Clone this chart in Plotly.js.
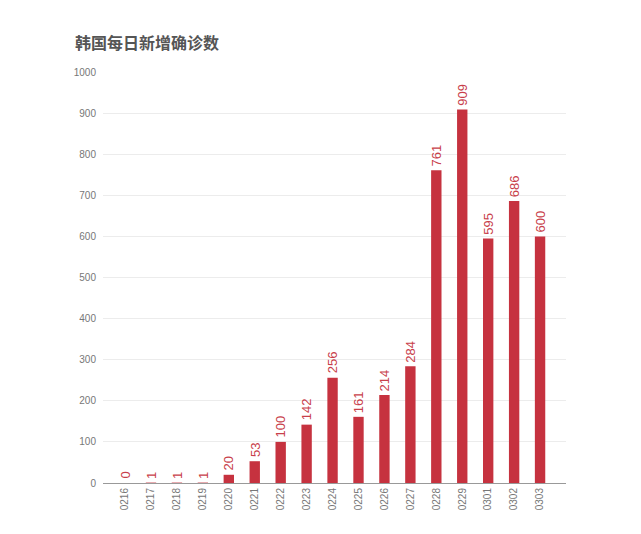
<!DOCTYPE html>
<html>
<head>
<meta charset="utf-8">
<script src="https://cdn.plot.ly/plotly-3.0.1.min.js"></script>
<style>
  html, body { margin: 0; padding: 0; background: #fff; }
  #chart { width: 641px; height: 534px; }
</style>
</head>
<body>
<div id="chart"></div>
<script>
// daily new confirmed cases, South Korea
const dates = ['0216', '0217', '0218', '0219', '0220', '0221', '0222', '0223', '0224',
	'0225', '0226', '0227', '0228', '0229', '0301', '0302', '0303'];
const cases = [0, 1, 1, 1, 20, 53, 100, 142, 256, 161, 214, 284, 761, 909, 595, 686, 600];
const yTicks = [0, 100, 200, 300, 400, 500, 600, 700, 800, 900, 1000];

const red = '#c6323f';

const trace = {
	type: 'bar',
	x: dates,
	y: cases,
	marker: { color: red },
	hoverinfo: 'x+y'
};

// value labels above each bar, rotated like the original
// (x given as category index, '0216' style strings get read as numbers)
const labels = dates.map(function(d, i) {
	return {
		xref: 'x',
		yref: 'y',
		x: i,
		y: cases[i],
		text: String(cases[i]),
		textangle: -90,
		showarrow: false,
		xanchor: 'center',
		yanchor: 'bottom',
		yshift: 2,
		font: { family: 'Liberation Sans, Arial, sans-serif', size: 13, color: '#c8404a' }
	};
});

const layout = {
	width: 641,
	height: 534,
	margin: { l: 103, r: 75, t: 72, b: 51 },
	paper_bgcolor: '#ffffff',
	plot_bgcolor: '#ffffff',
	showlegend: false,
	bargap: 0.6,
	font: { family: 'Liberation Sans, Arial, sans-serif', color: '#666' },
	title: {
		text: '<b>韩国每日新增确诊数</b>',
		font: { family: 'Noto Sans CJK SC, sans-serif', size: 16, color: '#555' },
		xref: 'container',
		yref: 'container',
		x: 75 / 641,
		xanchor: 'left',
		y: 1 - 43 / 534,
		yanchor: 'middle'
	},
	xaxis: {
		type: 'category',
		range: [-0.85, 17],
		tickangle: -90,
		tickfont: { size: 10, color: '#777' },
		showgrid: false,
		showline: true,
		linecolor: '#999',
		linewidth: 1,
		ticks: '',
		fixedrange: true
	},
	yaxis: {
		range: [0, 1000],
		tickvals: yTicks,
		ticktext: yTicks.map(String),
		tickfont: { size: 10, color: '#777' },
		showgrid: true,
		gridcolor: '#ececec',
		gridwidth: 1,
		zeroline: false,
		showline: false,
		ticks: '',
		ticklabelstandoff: 6,
		fixedrange: true
	},
	annotations: labels
};

Plotly.newPlot('chart', [trace], layout, { displayModeBar: false, staticPlot: true });
</script>
</body>
</html>
